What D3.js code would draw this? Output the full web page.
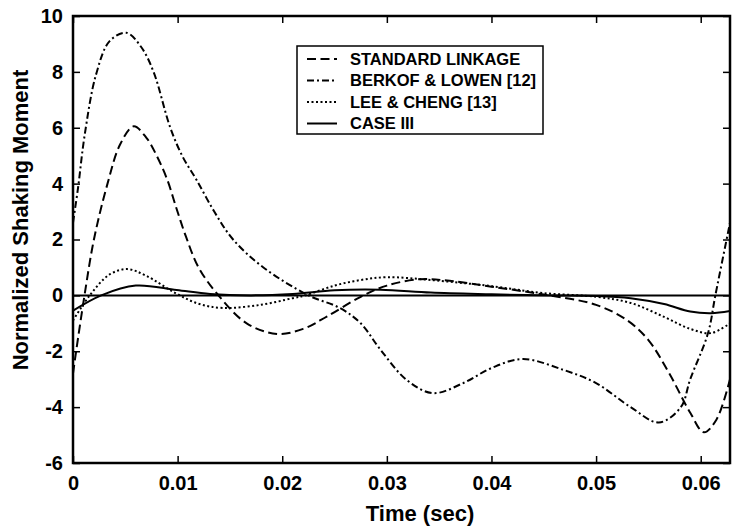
<!DOCTYPE html>
<html>
<head>
<meta charset="utf-8">
<script src="https://cdn.jsdelivr.net/npm/d3@7"></script>
<style>
  html, body { margin: 0; padding: 0; background: #fff; }
  svg { display: block; }
  text { font-family: "Liberation Sans", Arial, Helvetica, sans-serif; font-weight: bold; fill: #000; }
</style>
</head>
<body>
<svg id="chart" width="732" height="530"></svg>
<script>
// ---- data ----
const xTicks = [0, 0.01, 0.02, 0.03, 0.04, 0.05, 0.06];
const xTickLabels = ["0", "0.01", "0.02", "0.03", "0.04", "0.05", "0.06"];
const yTicks = [-6, -4, -2, 0, 2, 4, 6, 8, 10];
const yTickLabels = ["-6", "-4", "-2", "0", "2", "4", "6", "8", "10"];
const xDomain = [0, 0.0628];
const yDomain = [-6, 10];

const standardT = [0, 0.0003, 0.0011, 0.002, 0.0033, 0.0045, 0.0058, 0.007, 0.008, 0.009, 0.0099, 0.0108, 0.012, 0.0139, 0.0166, 0.0195, 0.022, 0.0243, 0.0275, 0.030, 0.0332, 0.036, 0.040, 0.045, 0.050, 0.053, 0.055, 0.057, 0.059, 0.0603, 0.0615, 0.0628];
const standardY = [-2.8, -2.0, 0.0, 2.0, 4.0, 5.4, 6.05, 5.65, 5.0, 4.15, 3.1, 2.1, 1.0, 0.0, -1.0, -1.38, -1.2, -0.75, -0.05, 0.35, 0.58, 0.52, 0.31, 0.03, -0.34, -0.9, -1.6, -2.8, -4.2, -4.9, -4.45, -3.0];

const berkofT = [0, 0.0005, 0.0011, 0.0022, 0.0035, 0.0051, 0.0065, 0.0077, 0.0093, 0.0105, 0.0118, 0.0135, 0.0153, 0.0182, 0.0225, 0.0255, 0.0275, 0.0294, 0.0319, 0.0344, 0.0373, 0.040, 0.043, 0.0469, 0.050, 0.0533, 0.056, 0.0581, 0.059, 0.0607, 0.0614, 0.0628];
const berkofY = [2.6, 3.9, 5.7, 7.9, 9.1, 9.4, 8.9, 8.0, 6.0, 4.95, 4.14, 3.0, 2.0, 1.0, 0.0, -0.45, -1.0, -1.95, -3.03, -3.5, -3.14, -2.6, -2.28, -2.67, -3.14, -4.0, -4.55, -4.0, -3.0, -1.35, 0.0, 2.6];

const leeT = [0, 0.0016, 0.0035, 0.0052, 0.007, 0.0098, 0.012, 0.0143, 0.0179, 0.021, 0.0222, 0.025, 0.0275, 0.030, 0.0342, 0.040, 0.045, 0.050, 0.0533, 0.0565, 0.059, 0.061, 0.0628];
const leeY = [-0.9, 0.0, 0.75, 0.94, 0.7, 0.08, -0.3, -0.45, -0.34, -0.1, 0.0, 0.35, 0.55, 0.65, 0.55, 0.33, 0.08, -0.05, -0.27, -0.77, -1.2, -1.35, -1.0];

const caseT = [0, 0.0027, 0.006, 0.0099, 0.0131, 0.017, 0.021, 0.025, 0.0294, 0.0342, 0.040, 0.045, 0.050, 0.0533, 0.0565, 0.059, 0.061, 0.0628];
const caseY = [-0.55, 0.0, 0.35, 0.19, 0.05, 0.0, 0.05, 0.18, 0.2, 0.1, 0.04, 0.0, -0.02, -0.1, -0.31, -0.58, -0.64, -0.56];

const seriesNames = ["STANDARD LINKAGE", "BERKOF & LOWEN [12]", "LEE & CHENG [13]", "CASE III"];
const seriesT = [standardT, berkofT, leeT, caseT];
const seriesY = [standardY, berkofY, leeY, caseY];
const seriesDash = ["9,4.5", "7,3,2,3", "2,2.5", null];

// ---- layout ----
const svg = d3.select("#chart");
const m = { left: 73, top: 16, right: 2, bottom: 67 };
const W = 732, H = 530;
const pw = W - m.left - m.right, ph = H - m.top - m.bottom;

const x = d3.scaleLinear().domain(xDomain).range([m.left, m.left + pw]);
const y = d3.scaleLinear().domain(yDomain).range([m.top + ph, m.top]);

svg.append("defs").append("clipPath").attr("id", "clip")
  .append("rect").attr("x", m.left).attr("y", m.top).attr("width", pw).attr("height", ph);

// zero line
svg.append("line")
  .attr("x1", x(xDomain[0])).attr("x2", x(xDomain[1]))
  .attr("y1", y(0)).attr("y2", y(0))
  .attr("stroke", "#000").attr("stroke-width", 2);

// curves
const line = d3.line().x(d => x(d[0])).y(d => y(d[1])).curve(d3.curveCatmullRom.alpha(0.5));
const g = svg.append("g").attr("clip-path", "url(#clip)");
seriesT.forEach((ts, i) => {
  const pts = ts.map((t, j) => [t, seriesY[i][j]]);
  g.append("path").datum(pts)
    .attr("d", line)
    .attr("fill", "none")
    .attr("stroke", "#000")
    .attr("stroke-width", 2)
    .attr("stroke-dasharray", seriesDash[i]);
});

// axes (ticks inside, on all four sides)
const tickLen = 7;
const axB = d3.axisBottom(x).tickValues(xTicks).tickFormat((d, i) => xTickLabels[i]).tickSizeInner(-tickLen).tickSizeOuter(0).tickPadding(13);
const axT = d3.axisTop(x).tickValues(xTicks).tickFormat("").tickSizeInner(-tickLen).tickSizeOuter(0);
const axL = d3.axisLeft(y).tickValues(yTicks).tickFormat((d, i) => yTickLabels[i]).tickSizeInner(-tickLen).tickSizeOuter(0).tickPadding(10);
const axR = d3.axisRight(y).tickValues(yTicks).tickFormat("").tickSizeInner(-tickLen).tickSizeOuter(0);

function styleAxis(sel) {
  sel.select(".domain").remove();
  sel.selectAll(".tick line").attr("stroke", "#000").attr("stroke-width", 1.5);
  sel.selectAll(".tick text").style("font-size", "20px").attr("fill", "#000");
}
svg.append("g").attr("transform", `translate(0,${m.top + ph})`).call(axB).call(styleAxis);
svg.append("g").attr("transform", `translate(0,${m.top})`).call(axT).call(styleAxis);
svg.append("g").attr("transform", `translate(${m.left},0)`).call(axL).call(styleAxis);
svg.append("g").attr("transform", `translate(${m.left + pw},0)`).call(axR).call(styleAxis);

// frame
svg.append("rect")
  .attr("x", m.left).attr("y", m.top).attr("width", pw).attr("height", ph)
  .attr("fill", "none").attr("stroke", "#000").attr("stroke-width", 2.5);

// axis titles
svg.append("text").attr("x", 420).attr("y", 521).attr("text-anchor", "middle")
  .style("font-size", "22px").text("Time (sec)");
svg.append("text").attr("transform", "translate(28,220) rotate(-90)").attr("text-anchor", "middle")
  .style("font-size", "22px").text("Normalized Shaking Moment");

// legend
const lg = svg.append("g");
const lx = 297, ly = 46, lw = 246, lh = 88;
lg.append("rect").attr("x", lx).attr("y", ly).attr("width", lw).attr("height", lh)
  .attr("fill", "#fff").attr("stroke", "#000").attr("stroke-width", 1.5);
seriesNames.forEach((name, i) => {
  const cy = ly + 13 + i * 21.5;
  lg.append("line").attr("x1", lx + 10).attr("x2", lx + 40).attr("y1", cy).attr("y2", cy)
    .attr("stroke", "#000").attr("stroke-width", 2).attr("stroke-dasharray", seriesDash[i]);
  lg.append("text").attr("x", lx + 53).attr("y", cy).attr("dy", "0.36em")
    .style("font-size", "16.5px").text(name);
});
</script>
</body>
</html>
